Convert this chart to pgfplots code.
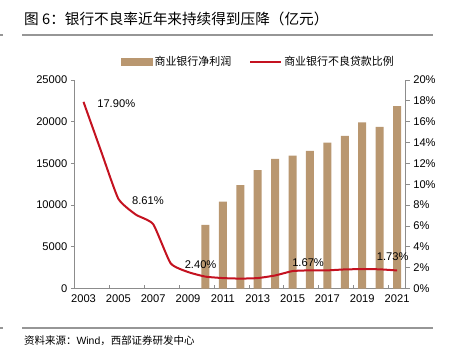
\documentclass[border=0pt]{standalone}
\usepackage{fontspec}
\setmainfont{Liberation Sans}
\newfontfamily\cjk{Noto Sans CJK SC}
\usepackage{pgfplots}
\pgfplotsset{compat=1.18}
\definecolor{barc}{RGB}{185,151,112}
\definecolor{linec}{RGB}{196,18,32}
\definecolor{axc}{RGB}{140,140,140}
\definecolor{rulec}{RGB}{150,150,150}
\begin{document}
\begin{tikzpicture}
\useasboundingbox (0bp,0bp) rectangle (449bp,351bp);
\node[anchor=west,inner sep=0pt,font=\cjk\fontsize{14.7}{16}\selectfont] at (24bp,332bp) {图 6：银行不良率近年来持续得到压降（亿元）};
\draw[rulec, line width=1.6bp] (22bp,316bp) -- (433bp,316bp);
\draw[rulec, line width=1.2bp] (0bp,316bp) -- (3bp,316bp);
\draw[rulec, line width=1.6bp] (22bp,23bp) -- (433bp,23bp);
\draw[rulec, line width=1.2bp] (0bp,23bp) -- (3bp,23bp);
\node[anchor=west,inner sep=0pt,font=\fontsize{10.5}{12}\selectfont] at (24bp,10bp) {{\cjk 资料来源：}Wind{\cjk ，西部证券研发中心}};
\begin{axis}[
  at={(74.8bp,62.5bp)}, anchor=south west,
  width=331bp, height=208.5bp, scale only axis,
  xmin=2002.5, xmax=2021.5, ymin=0, ymax=25000,
  axis y line*=left, axis x line*=bottom,
  axis line style={axc, line width=0.8bp},
  ytick={0,5000,...,25000},
  scaled y ticks=false,
  /pgf/number format/set thousands separator={},
  /pgf/number format/assume math mode=true,
  xtick={2003,2005,...,2021},
  tick style={axc, line width=0.8bp},
  major tick length=4bp,
  ytick align=outside,
  xtick align=inside,
  x tick style={draw=none},
  extra x ticks={2004.5,2006.5,...,2020.5},
  extra x tick labels={},
  extra x tick style={x tick style={axc, line width=0.8bp, draw=axc}, major tick length=3.5bp, tick align=inside},
  tick label style={font=\fontsize{11.2}{13}\selectfont},
  xticklabel style={yshift=-2.5bp},
]
\addplot[ybar, bar width=8bp, fill=barc, draw=none] coordinates {
(2010,7637) (2011,10412) (2012,12386) (2013,14180) (2014,15548) (2015,15926)
(2016,16490) (2017,17477) (2018,18302) (2019,19932) (2020,19392) (2021,21860)};
\end{axis}
\begin{axis}[
  at={(74.8bp,62.5bp)}, anchor=south west,
  width=331bp, height=208.5bp, scale only axis,
  xmin=2002.5, xmax=2021.5, ymin=0, ymax=20,
  axis y line*=right, axis x line=none,
  axis line style={axc, line width=0.8bp},
  ytick={0,2,...,20},
  yticklabel={\pgfmathprintnumber{\tick}\%},
  /pgf/number format/assume math mode=true,
  tick style={axc, line width=0.8bp},
  major tick length=4bp,
  tick align=outside,
  tick label style={font=\fontsize{11.2}{13}\selectfont},
  clip=false,
  legend columns=2,
  legend style={draw=none, fill=none, at={(0.555,1.0865)}, anchor=center,
    font=\cjk\fontsize{11}{13}\selectfont,
    /tikz/every even column/.append style={column sep=16bp}},
]
\addlegendimage{legend image code/.code={\fill[barc] (0bp,-3.5bp) rectangle (31bp,3.5bp);}}
\addlegendentry{商业银行净利润}
\addplot[linec, line width=2bp, smooth, tension=0.3,
  legend image code/.code={\draw[linec, line width=2bp] (0bp,0bp) -- (31bp,0bp);}] coordinates {
(2003,17.90) (2004,13.21) (2005,8.61) (2006,7.09) (2007,6.17) (2008,2.42)
(2009,1.58) (2010,1.14) (2011,1.00) (2012,0.95) (2013,1.00) (2014,1.25)
(2015,1.67) (2016,1.74) (2017,1.74) (2018,1.83) (2019,1.86) (2020,1.84) (2021,1.73)};
\addlegendentry{商业银行不良贷款比例}
\node[font=\fontsize{11.2}{13}\selectfont] at (axis cs:2004.88,17.76) {17.90\%};
\node[font=\fontsize{11.2}{13}\selectfont] at (axis cs:2006.70,8.46) {8.61\%};
\node[font=\fontsize{11.2}{13}\selectfont] at (axis cs:2009.72,2.31) {2.40\%};
\node[font=\fontsize{11.2}{13}\selectfont] at (axis cs:2015.89,2.47) {1.67\%};
\node[font=\fontsize{11.2}{13}\selectfont] at (axis cs:2020.75,3.10) {1.73\%};
\end{axis}
\end{tikzpicture}
\end{document}
